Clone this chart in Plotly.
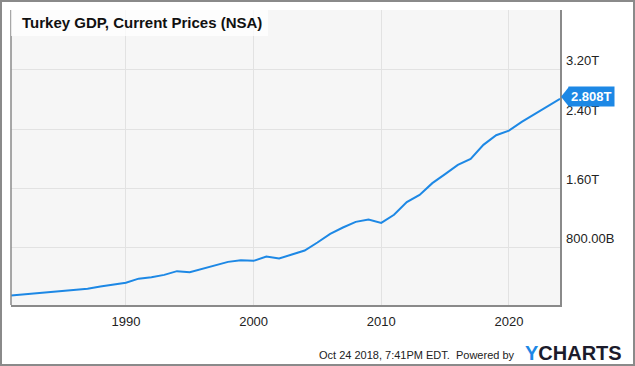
import plotly.graph_objects as go

# ---- data (billions, current prices) ----
years = list(range(1980, 2024))
gdp_billions = [
    158, 172, 186, 198, 215, 230, 250, 280, 300, 330,
    385, 405, 436, 486, 472, 520, 558, 611, 634, 625,
    683, 656, 710, 764, 872, 989, 1074, 1150, 1182, 1137,
    1245, 1416, 1514, 1672, 1793, 1918, 1999, 2188, 2318, 2380,
    2497, 2601, 2695, 2808,
]
y_tick_vals_b = [800, 1600, 2400, 3200]
y_tick_text = ["800.00B", "1.60T", "2.40T", "3.20T"]
x_tick_years = [1990, 2000, 2010, 2020]
last_label = "2.808T"
title_text = "Turkey GDP, Current Prices (NSA)"
footer_text = "Oct 24 2018, 7:41PM EDT.  Powered by"

# ---- layout constants ----
W, H = 635, 366
L, R, T, B = 11, 75, 10, 61
PW, PH = W - L - R, H - T - B
BLUE = "#1d88e5"
FONT = "Arial, Liberation Sans, sans-serif"

def px(x):
    return (x - L) / PW

def py(y):
    return (H - B - y) / PH

x_dates = [f"{y}-12-31" for y in years]
y_vals = [v * 1e9 for v in gdp_billions]

fig = go.Figure()
fig.add_trace(go.Scatter(
    x=x_dates, y=y_vals, mode="lines",
    line=dict(color=BLUE, width=2),
    hoverinfo="skip", showlegend=False,
))

shapes = []
# outer frame
shapes.append(dict(type="rect", xref="paper", yref="paper",
                   x0=px(1), x1=px(634), y0=py(365), y1=py(1),
                   line=dict(color="#8a8a8a", width=2), layer="below"))
# left border of plot
shapes.append(dict(type="line", xref="paper", yref="paper",
                   x0=0, x1=0, y0=0, y1=1,
                   line=dict(color="#8a8a8a", width=1.5)))
# title box
shapes.append(dict(type="rect", xref="paper", yref="paper",
                   x0=0, x1=px(268), y0=py(36), y1=1,
                   fillcolor="rgba(255,255,255,0.75)", line=dict(width=0),
                   layer="above"))
# last-value flag arrow (anchored at right edge of plot, at last value)
shapes.append(dict(type="path", xref="paper", yref="y",
                   xsizemode="pixel", ysizemode="pixel",
                   xanchor=1, yanchor=y_vals[-1],
                   path="M 1 2 L 9 -8 L 9 12 Z",
                   fillcolor=BLUE, line=dict(width=0), layer="above"))

annotations = []
annotations.append(dict(xref="paper", yref="paper", x=px(20), y=py(23),
                        xanchor="left", yanchor="middle", showarrow=False,
                        text=f"<b>{title_text}</b>",
                        font=dict(family=FONT, size=15, color="#111")))
for v, t in zip(y_tick_vals_b, y_tick_text):
    shift = 19 if t == "2.40T" else 9
    annotations.append(dict(xref="paper", yref="y", x=1, y=v * 1e9,
                            xanchor="left", yanchor="middle", xshift=4, yshift=shift,
                            showarrow=False, text=t,
                            font=dict(family=FONT, size=13, color="#222")))
annotations.append(dict(xref="paper", yref="y", x=1, y=y_vals[-1],
                        xanchor="left", yanchor="middle", xshift=8, yshift=2,
                        showarrow=False, text=f"<b>{last_label}</b>",
                        bgcolor=BLUE, borderpad=2,
                        font=dict(family=FONT, size=13, color="white")))
annotations.append(dict(xref="paper", yref="paper", x=px(517), y=py(355),
                        xanchor="right", yanchor="middle", showarrow=False,
                        text=footer_text,
                        font=dict(family=FONT, size=11, color="#222")))
annotations.append(dict(xref="paper", yref="paper", x=px(624), y=py(353),
                        xanchor="right", yanchor="middle", showarrow=False,
                        text=f"<b><span style='color:{BLUE}'>Y</span>CHARTS</b>",
                        font=dict(family=FONT, size=20, color="#1b1b2b")))

fig.update_layout(
    width=W, height=H,
    margin=dict(l=L, r=R, t=T, b=B, pad=0),
    paper_bgcolor="white",
    plot_bgcolor="#f6f6f6",
    showlegend=False,
    shapes=shapes,
    annotations=annotations,
    xaxis=dict(
        type="date",
        range=[x_dates[0], x_dates[-1]],
        tickvals=[f"{y}-01-01" for y in x_tick_years],
        ticktext=[str(y) for y in x_tick_years],
        showgrid=True, gridcolor="#e2e2e2", gridwidth=1,
        showline=True, linecolor="#8a8a8a", linewidth=1.5,
        ticks="", ticklabelstandoff=4,
        tickfont=dict(family=FONT, size=13, color="#222"),
        zeroline=False, fixedrange=True,
    ),
    yaxis=dict(
        side="right",
        range=[30e9, 4005e9],
        tickvals=[v * 1e9 for v in y_tick_vals_b],
        showticklabels=False,
        showgrid=True, gridcolor="#e2e2e2", gridwidth=1,
        showline=True, linecolor="#8a8a8a", linewidth=1.5,
        ticks="", zeroline=False, fixedrange=True,
    ),
)

fig.write_html(
    "out.html",
    config={"displayModeBar": False},
    post_script="document.body.style.margin='0px';document.body.style.overflow='hidden';",
)
